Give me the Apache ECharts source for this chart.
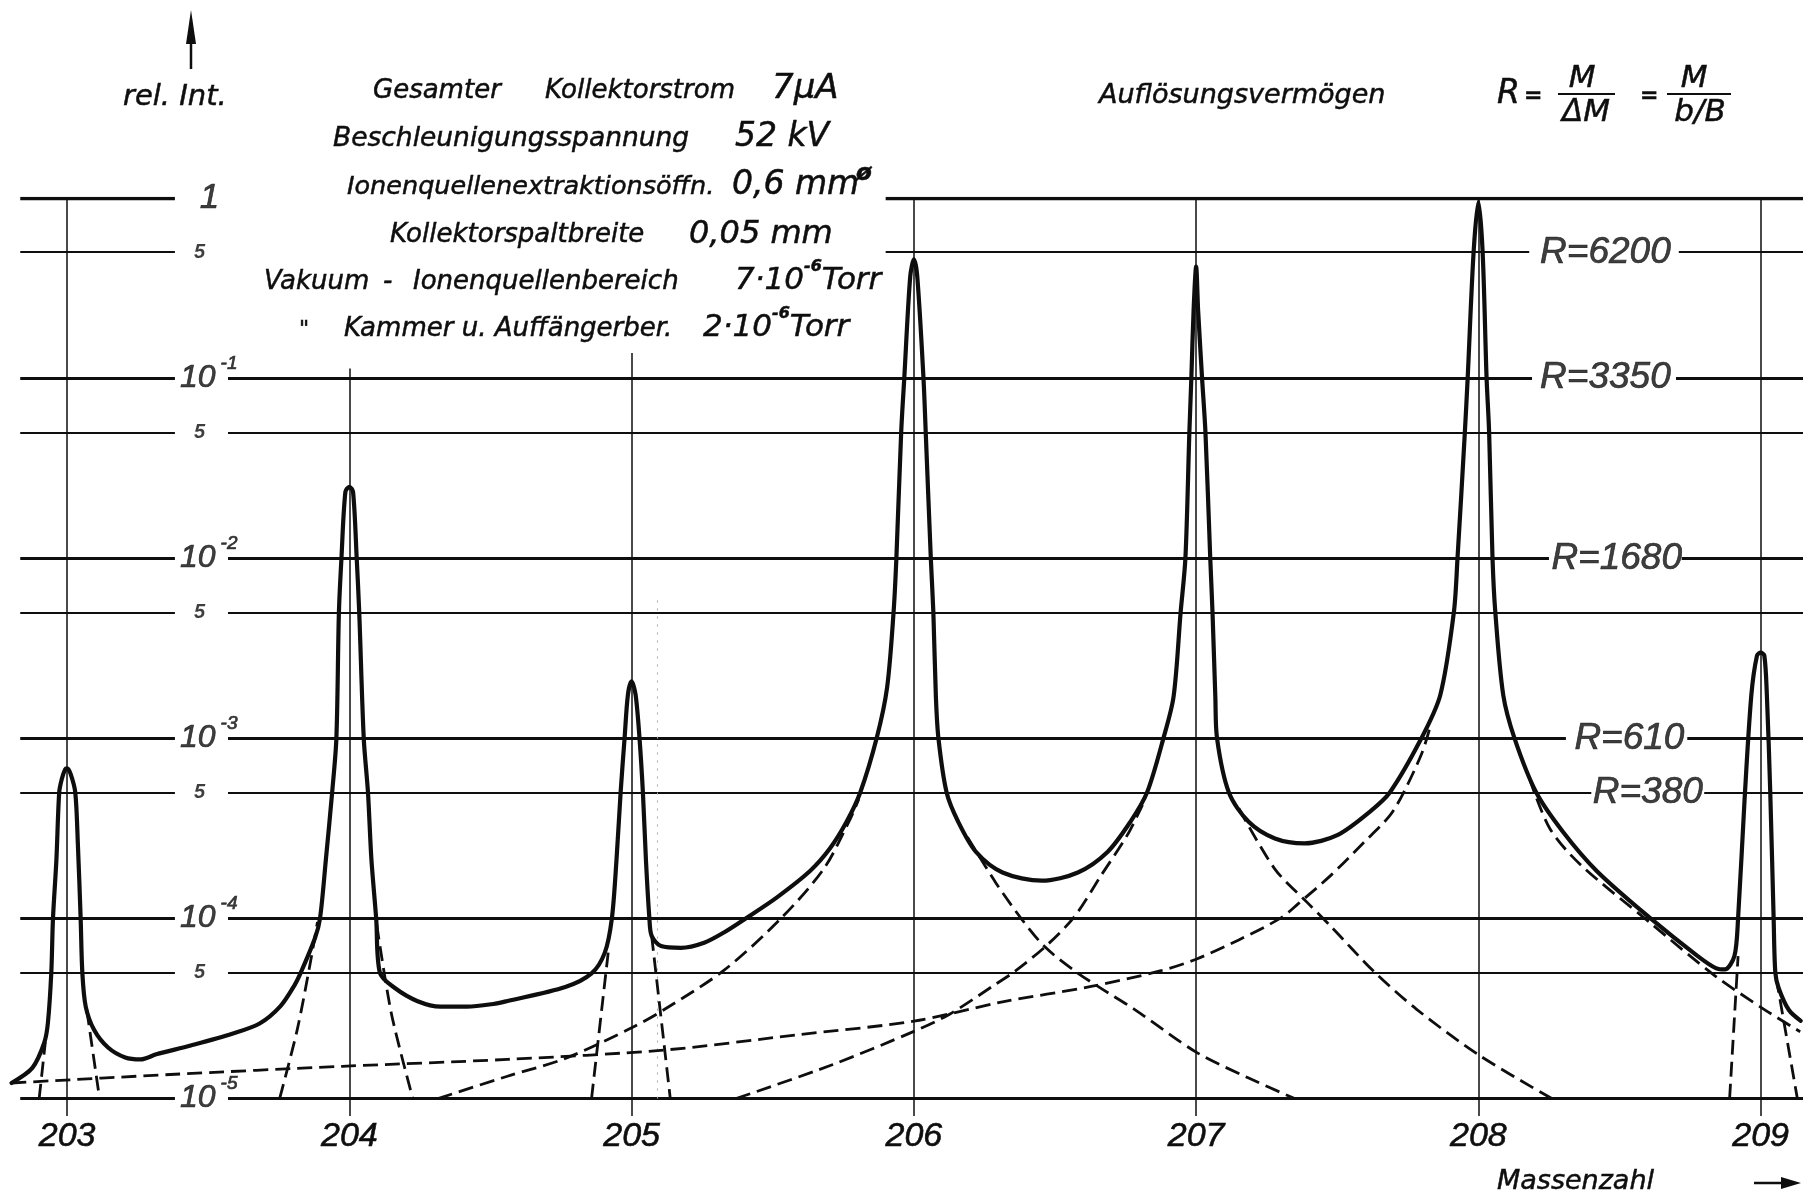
<!DOCTYPE html>
<html><head><meta charset="utf-8">
<script src="https://cdn.jsdelivr.net/npm/echarts@6/dist/echarts.min.js"></script>
<style>html,body{margin:0;padding:0;background:#fff;}#c{width:1805px;height:1195px;}</style>
</head><body><div id="c"></div>
<script>
// ---------------- DATA ----------------
const massTicks = [203, 204, 205, 206, 207, 208, 209];
const massTickLabels = ['203', '204', '205', '206', '207', '208', '209'];
const massLineTop = [1, 0.113, 0.138, 1, 1, 1, 1];
const gridLevels = [1, 0.5, 0.1, 0.05, 0.01, 0.005, 0.001, 0.0005, 0.0001, 0.00005, 0.00001];
const gridLabelBase = ['1', '5', '10', '5', '10', '5', '10', '5', '10', '5', '10'];
const gridLabelExp = ['', '', '-1', '', '-2', '', '-3', '', '-4', '', '-5'];
const resolutionLevels = [0.5, 0.1, 0.01, 0.001, 0.0005];
const resolutionLabels = ['R=6200', 'R=3350', 'R=1680', 'R=610', 'R=380'];

// total measured curve (solid)  [mass, rel. intensity]
const totalCurve = [
  [202.803,1.22e-5],[202.877,1.48e-5],[202.919,2.04e-5],[202.932,2.63e-5],[202.944,5.0e-5],[202.95,1.0e-4],
  [202.962,2.10e-4],[202.972,5.0e-4],[202.981,5.92e-4],[202.993,6.73e-4],[203.0,6.81e-4],[203.013,6.31e-4],
  [203.029,5.0e-4],[203.038,2.63e-4],[203.048,1.0e-4],[203.054,5.0e-5],[203.066,3.24e-5],[203.096,2.40e-5],
  [203.145,1.92e-5],[203.206,1.69e-5],[203.261,1.65e-5],[203.316,1.76e-5],[203.438,1.97e-5],[203.585,2.29e-5],
  [203.682,2.61e-5],[203.756,3.26e-5],[203.805,4.24e-5],[203.829,5.05e-5],[203.878,7.76e-5],[203.896,1.0e-4],
  [203.917,2.14e-4],[203.939,5.0e-4],[203.954,1.0e-3],[203.963,5.0e-3],[203.972,1.0e-2],[203.986,2.34e-2],
  [204.0,2.49e-2],[204.013,2.34e-2],[204.026,1.0e-2],[204.035,5.0e-3],[204.051,1.0e-3],[204.066,5.0e-4],
  [204.078,2.14e-4],[204.095,1.0e-4],[204.108,5.0e-5],[204.16,4.12e-5],[204.242,3.47e-5],[204.324,3.24e-5],
  [204.417,3.24e-5],[204.51,3.35e-5],[204.557,3.47e-5],[204.765,4.16e-5],[204.858,4.95e-5],[204.905,6.46e-5],
  [204.93,1.0e-4],[204.946,2.07e-4],[204.961,5.0e-4],[204.975,1.0e-3],[204.987,1.75e-3],[205.0,2.07e-3],
  [205.014,1.75e-3],[205.028,1.0e-3],[205.04,5.0e-4],[205.051,2.07e-4],[205.063,1.0e-4],[205.071,8.0e-5],
  [205.104,7.03e-5],[205.175,6.87e-5],[205.257,7.33e-5],[205.327,8.36e-5],[205.404,1.0e-4],[205.515,1.31e-4],
  [205.633,1.84e-4],[205.703,2.45e-4],[205.762,3.45e-4],[205.81,5.0e-4],[205.868,1.0e-3],[205.905,1.91e-3],
  [205.928,5.0e-3],[205.938,1.0e-2],[205.955,5.0e-2],[205.966,0.1],[205.987,0.366],[206.0,0.456],
  [206.012,0.366],[206.034,0.1],[206.042,0.05],[206.06,0.01],[206.069,5.0e-3],[206.078,1.70e-3],
  [206.087,1.0e-3],[206.116,5.0e-4],[206.157,3.44e-4],[206.22,2.34e-4],[206.314,1.80e-4],[206.453,1.62e-4],
  [206.581,1.80e-4],[206.686,2.34e-4],[206.767,3.44e-4],[206.826,5.0e-4],[206.884,1.0e-3],[206.92,1.70e-3],
  [206.945,5.0e-3],[206.962,1.0e-2],[206.976,0.05],[206.983,0.1],[206.991,0.238],[207.0,0.416],
  [207.007,0.238],[207.021,0.1],[207.033,0.05],[207.05,0.01],[207.058,5.0e-3],[207.068,1.70e-3],
  [207.074,1.0e-3],[207.116,5.0e-4],[207.186,3.44e-4],[207.279,2.78e-4],[207.384,2.61e-4],[207.5,2.90e-4],
  [207.616,3.92e-4],[207.686,5.0e-4],[207.798,1.0e-3],[207.865,1.74e-3],[207.913,5.0e-3],[207.926,1.0e-2],
  [207.952,0.05],[207.962,0.1],[207.983,0.5],[208.0,0.955],[208.015,0.5],[208.029,0.1],
  [208.038,0.05],[208.05,0.01],[208.06,5.0e-3],[208.088,1.74e-3],[208.128,1.0e-3],[208.205,5.0e-4],
  [208.3,3.02e-4],[208.42,1.83e-4],[208.61,1.0e-4],[208.777,6.18e-5],[208.843,5.28e-5],[208.873,5.21e-5],
  [208.907,6.18e-5],[208.92,1.0e-4],[208.943,4.57e-4],[208.967,1.74e-3],[208.987,2.88e-3],[209.0,2.99e-3],
  [209.013,2.88e-3],[209.022,1.74e-3],[209.034,5.0e-4],[209.046,1.0e-4],[209.052,5.0e-5],[209.064,4.10e-5],
  [209.1,3.10e-5],[209.142,2.70e-5]
];

// single-peak components (dashed)
const tail208Low = [[202.803,1.22e-5],[203.365,1.36e-5],[203.975,1.51e-5],[204.56,1.65e-5],[205.117,1.86e-5],
  [205.588,2.26e-5],[206.0,2.69e-5],[206.314,3.44e-5],[206.628,4.19e-5],[206.872,5.11e-5],[207.0,5.94e-5],
  [207.151,7.6e-5],[207.302,1.01e-4],[207.36,1.20e-4],[207.478,1.74e-4],[207.593,2.63e-4],[207.686,3.72e-4],
  [207.735,5.0e-4],[207.8,8.3e-4],[207.83,1.17e-3]];
const tail206Left = [[204.314,1.0e-5],[204.56,1.33e-5],[204.765,1.67e-5],[205.0,2.47e-5],[205.117,3.13e-5],
  [205.329,5.18e-5],[205.529,1.0e-4],[205.682,1.90e-4],[205.776,3.61e-4],[205.805,4.6e-4]];
const tail206Right = [[206.19,2.82e-4],[206.29,1.58e-4],[206.383,9.86e-5],[206.465,6.93e-5],[206.57,5.11e-5],
  [206.663,4.09e-5],[206.78,3.14e-5],[207.0,1.81e-5],[207.186,1.30e-5],[207.349,1.0e-5]];
const tail207Left = [[205.37,1.0e-5],[205.706,1.53e-5],[206.0,2.36e-5],[206.128,2.95e-5],[206.293,4.35e-5],
  [206.36,5.11e-5],[206.477,7.24e-5],[206.57,1.03e-4],[206.663,1.73e-4],[206.756,2.90e-4],[206.81,4.27e-4]];
const tail207Right = [[207.151,4.09e-4],[207.279,1.88e-4],[207.395,1.22e-4],[207.477,9.04e-5],[207.63,5.07e-5],
  [207.78,3.14e-5],[208.0,1.75e-5],[208.26,1.0e-5]];
const tail208Right = [[208.18,6.03e-4],[208.253,3.16e-4],[208.36,2.0e-4],[208.61,9.42e-5],[208.837,4.82e-5],
  [209.016,3.10e-5],[209.14,2.35e-5]];
const flank203Left = [[202.901,1.0e-5],[202.923,2.06e-5]];
const flank203Right = [[203.07,3.09e-5],[203.115,1.0e-5]];
const flank204Left = [[203.753,1.0e-5],[203.815,2.40e-5],[203.862,5.71e-5],[203.887,9.55e-5]];
const flank204Right = [[204.097,9.25e-5],[204.149,2.96e-5],[204.225,1.0e-5]];
const flank205Left = [[204.858,1.0e-5],[204.917,6.46e-5]];
const flank205Right = [[205.071,8.0e-5],[205.137,1.0e-5]];
const flank209Left = [[208.89,1.0e-5],[208.92,6.18e-5]];
const flank209Right = [[209.055,4.68e-5],[209.13,1.0e-5]];

// ---------------- LAYOUT / STYLE ----------------
const INK = '#0e0e0e';
const FONT_TXT = "'DejaVu Sans', 'Liberation Sans', sans-serif";
const FONT_NUM = "'Liberation Sans Narrow', 'Liberation Sans', Arial, sans-serif";
const X_MIN = 202.78, X_MAX = 209.15, Y_MIN = 8e-6, Y_MAX = 1;
const lineStart = 202.834, lineEnd = 209.15;
const tickGap = [203.382, 203.57];
const headerGapEnd = 205.9;
const rGaps = [[208.18, 208.71], [208.19, 208.70], [208.25, 208.72], [208.31, 208.74], [208.40, 208.80]];
const rLabelX = [208.45, 208.45, 208.49, 208.535, 208.6];
const tickLabelX = { pow: 203.40, five: 203.45, one: 203.47 };
const dottedMark = { x: 205.09, from: 1.0e-5, to: 6e-3 };

// gridline segments
const gridSegs = [];
gridLevels.forEach((lv, i) => {
  const gaps = [i < 2 ? [tickGap[0], headerGapEnd] : tickGap.slice()];
  const r = resolutionLevels.indexOf(lv);
  if (r >= 0) gaps.push(rGaps[r]);
  gaps.sort((a, b) => a[0] - b[0]);
  let s = lineStart;
  const isDecade = gridLabelBase[i] !== '5';
  const w = i === 0 ? 3.4 : (isDecade ? 2.8 : 2.1);
  gaps.forEach(g => { gridSegs.push({ coords: [[s, lv], [g[0], lv]], lineStyle: { width: w } }); s = g[1]; });
  gridSegs.push({ coords: [[s, lv], [lineEnd, lv]], lineStyle: { width: w } });
});
const vSegs = massTicks.map((m, i) => ({ coords: [[m, Y_MIN], [m, massLineTop[i]]] }));

// tick labels
const tickLabelData = gridLevels.map((lv, i) => {
  const b = gridLabelBase[i], e = gridLabelExp[i];
  let x, txt;
  if (e) { x = tickLabelX.pow; txt = '{b|' + b + '}{s|' + e + '}'; }
  else if (b === '1') { x = tickLabelX.one; txt = '{o|1}'; }
  else { x = tickLabelX.five; txt = '{f|5}'; }
  return { value: [x, lv], txt: txt };
});
const rLabelData = resolutionLevels.map((lv, i) => ({ value: [rLabelX[i], lv], txt: resolutionLabels[i] }));

const dashed = [tail208Low, tail206Left, tail206Right, tail207Left, tail207Right, tail208Right,
  flank203Left, flank203Right, flank204Left, flank204Right, flank205Left, flank205Right, flank209Left, flank209Right];

const TB = { textBorderColor: INK, textBorderWidth: 0.7 };
const series = [];
series.push({ type: 'lines', coordinateSystem: 'cartesian2d', silent: true, z: 1,
  lineStyle: { color: INK, width: 2.6, opacity: 1 }, data: gridSegs });
series.push({ type: 'lines', coordinateSystem: 'cartesian2d', silent: true, z: 1,
  lineStyle: { color: INK, width: 1.5, opacity: 1 }, data: vSegs });
series.push({ type: 'lines', coordinateSystem: 'cartesian2d', silent: true, z: 1,
  lineStyle: { color: '#aaa', width: 1, type: [2, 6], opacity: 1 },
  data: [{ coords: [[dottedMark.x, dottedMark.from], [dottedMark.x, dottedMark.to]] }] });
dashed.forEach(d => series.push({
  type: 'line', data: d, showSymbol: false, symbol: 'none', smooth: 0.3, silent: true, z: 3,
  lineStyle: { color: INK, width: 2.8, type: [15, 7], cap: 'butt', join: 'round' }
}));
series.push({ type: 'line', name: 'total', data: totalCurve, showSymbol: false, symbol: 'none', smooth: 0.3,
  silent: true, z: 4, lineStyle: { color: INK, width: 4.2, join: 'round', cap: 'round' } });
series.push({ type: 'scatter', symbolSize: 0, silent: true, z: 5,
  data: tickLabelData.map(d => ({ value: d.value, txt: d.txt })),
  label: { show: true, position: 'inside', align: 'left', verticalAlign: 'middle', color: INK,
    formatter: p => p.data.txt,
    rich: {
      b: Object.assign({ fontFamily: FONT_NUM, fontStyle: 'italic', fontSize: 32, lineHeight: 48, color: INK }, TB),
      s: Object.assign({ fontFamily: FONT_NUM, fontStyle: 'italic', fontSize: 19, lineHeight: 19, verticalAlign: 'top', padding: [0, 0, 0, 5], color: INK }, TB),
      o: Object.assign({ fontFamily: FONT_NUM, fontStyle: 'italic', fontSize: 35, color: INK }, TB),
      f: { fontFamily: FONT_NUM, fontStyle: 'italic', fontWeight: 'bold', fontSize: 20, color: INK }
    } } });
series.push({ type: 'scatter', symbolSize: 0, silent: true, z: 5,
  data: rLabelData.map(d => ({ value: d.value, txt: d.txt })),
  label: Object.assign({ show: true, position: 'inside', align: 'center', verticalAlign: 'middle', color: INK,
    fontFamily: FONT_NUM, fontStyle: 'italic', fontSize: 37, formatter: p => p.data.txt }, TB) });

// header texts
function T(text, x, y, size, opt) {
  return Object.assign({ type: 'text', silent: true, z: 10, style: Object.assign({
    text: text, x: x, y: y, fill: INK, fontFamily: FONT_TXT, fontStyle: 'italic', fontSize: size,
    textAlign: 'left', textVerticalAlign: 'middle', align: 'left', verticalAlign: 'middle',
    stroke: INK, lineWidth: 0.5
  }, opt || {}) });
}
const supRich = {
  v: { fontFamily: FONT_TXT, fontStyle: 'italic', fontSize: 31, lineHeight: 44, fill: INK, color: INK },
  s: { fontFamily: FONT_TXT, fontStyle: 'italic', fontWeight: 'bold', fontSize: 16, lineHeight: 16, verticalAlign: 'top', fill: INK, color: INK }
};
const graphics = [
  // rel. Int. arrow
  { type: 'polygon', silent: true, shape: { points: [[186, 44], [191, 10], [196, 44]] }, style: { fill: INK } },
  { type: 'line', silent: true, shape: { x1: 191, y1: 40, x2: 191, y2: 69 }, style: { stroke: INK, lineWidth: 2.5 } },
  T('rel. Int.', 123, 97, 29),
  T('Gesamter', 373, 91, 26), T('Kollektorstrom', 545, 91, 26), T('7\u00b5A', 772, 89, 34),
  T('Beschleunigungsspannung', 333, 139, 26.5), T('52 kV', 735, 137, 33),
  T('Ionenquellenextraktionsöffn.', 347, 187, 25.5), T('0,6 mm', 732, 185, 33),
  T('\u00f8', 856, 174, 23, { fontWeight: 'bold' }),
  T('Kollektorspaltbreite', 390, 235, 26), T('0,05 mm', 689, 235, 32),
  T('Vakuum', 264, 282, 26), T('-', 383, 282, 26), T('Ionenquellenbereich', 413, 282, 26),
  T('{v|7\u00b710}{s|-6}{v|Torr}', 735, 281, 31, { rich: supRich }),
  T('"', 299, 330, 22), T('Kammer u. Auffängerber.', 344, 329, 26),
  T('{v|2\u00b710}{s|-6}{v|Torr}', 703, 328, 31, { rich: supRich }),
  T('Auflösungsvermögen', 1099, 96, 27),
  T('R', 1497, 94, 33),
  T('=', 1524, 96, 22, { fontWeight: 'bold' }),
  T('M', 1582, 79, 31, { textAlign: 'center', align: 'center' }),
  { type: 'line', silent: true, shape: { x1: 1558, y1: 94, x2: 1615, y2: 94 }, style: { stroke: INK, lineWidth: 2.2 } },
  T('\u0394M', 1586, 113, 31, { textAlign: 'center', align: 'center' }),
  T('=', 1640, 96, 22, { fontWeight: 'bold' }),
  T('M', 1694, 79, 31, { textAlign: 'center', align: 'center' }),
  { type: 'line', silent: true, shape: { x1: 1667, y1: 94, x2: 1731, y2: 94 }, style: { stroke: INK, lineWidth: 2.2 } },
  T('b/B', 1700, 113, 31, { textAlign: 'center', align: 'center' }),
  T('Massenzahl', 1497, 1182, 27),
  { type: 'line', silent: true, shape: { x1: 1754, y1: 1183, x2: 1786, y2: 1183 }, style: { stroke: INK, lineWidth: 2.5 } },
  { type: 'polygon', silent: true, shape: { points: [[1781, 1177], [1801, 1183], [1781, 1189]] }, style: { fill: INK } }
];

const chart = echarts.init(document.getElementById('c'), null, { renderer: 'canvas' });
chart.setOption({
  animation: false,
  backgroundColor: '#ffffff',
  grid: { left: 5, right: 2, top: 198, bottom: 79, containLabel: false },
  xAxis: { type: 'value', min: X_MIN, max: X_MAX,
    axisLine: { show: false }, axisTick: { show: false }, splitLine: { show: false },
    axisLabel: { customValues: massTicks, margin: 4, color: INK, fontFamily: "'Liberation Sans', Arial, sans-serif",
      fontStyle: 'italic', fontSize: 34, textBorderColor: INK, textBorderWidth: 0.6,
      formatter: v => massTickLabels[massTicks.indexOf(v)] || '' } },
  yAxis: { type: 'log', logBase: 10, min: Y_MIN, max: Y_MAX, show: false },
  series: series,
  graphic: graphics
});
</script></body></html>
